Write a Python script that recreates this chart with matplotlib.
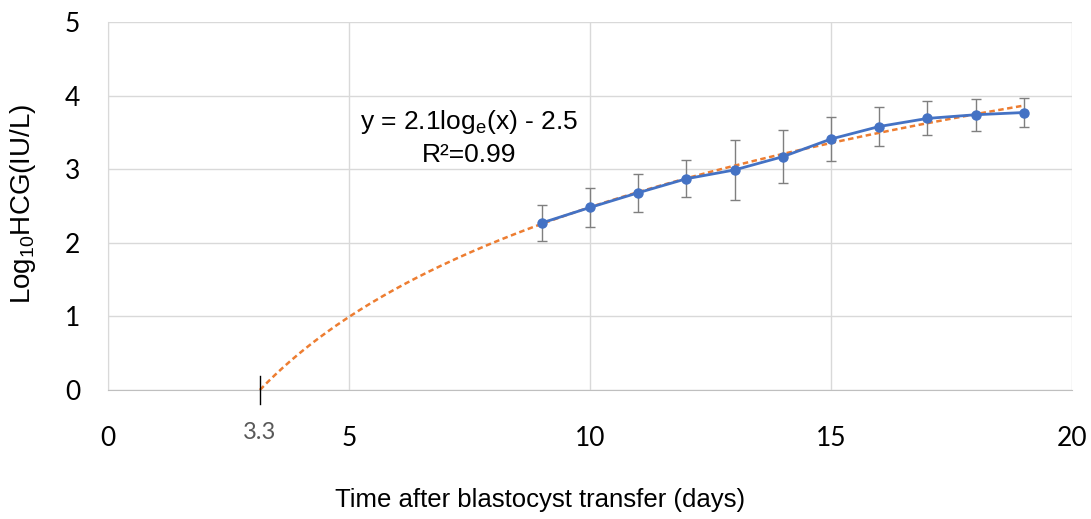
import matplotlib.pyplot as plt
import numpy as np

# values
days = [9, 10, 11, 12, 13, 14, 15, 16, 17, 18, 19]
log_hcg = [2.27, 2.48, 2.68, 2.87, 2.99, 3.17, 3.41, 3.58, 3.69, 3.74, 3.77]
log_hcg_err = [0.25, 0.26, 0.26, 0.25, 0.41, 0.36, 0.30, 0.26, 0.23, 0.22, 0.20]

x_ticks = [0, 5, 10, 15, 20]
y_ticks = [0, 1, 2, 3, 4, 5]
root_label = "3.3"
equation_text = "y = 2.1log$_\\mathregular{e}$(x) - 2.5"
r2_text = "R²=0.99"

BLUE = "#4472C4"
ORANGE = "#ED7D31"
GRID = "#D9D9D9"

# log trendline fitted to the means
slope, intercept = np.polyfit(np.log(days), log_hcg, 1)
x_root = np.exp(-intercept / slope)
x_fit = np.linspace(x_root, max(days), 200)
y_fit = slope * np.log(x_fit) + intercept

fig = plt.figure(figsize=(10.91, 5.19), dpi=100)
ax = fig.add_axes([0.099, 0.2486, 0.8836, 0.709])

ax.plot(x_fit, y_fit, color=ORANGE, linestyle=(0, (2.2, 1.4)), linewidth=1.8, zorder=3)
ax.errorbar(days, log_hcg, yerr=log_hcg_err, fmt="none", ecolor="#7F7F7F",
            elinewidth=1.0, capsize=3.5, capthick=1.0, zorder=2)
ax.plot(days, log_hcg, color=BLUE, linewidth=2, marker="o", markersize=6.5, zorder=4)

ax.set_xlim(0, 20)
ax.set_ylim(0, 5)
ax.set_xticks(x_ticks)
ax.set_yticks(y_ticks)
ax.grid(True, color=GRID, linewidth=1)
ax.set_axisbelow(True)
for side in ["top", "right"]:
    ax.spines[side].set_visible(False)
ax.spines["left"].set_color(GRID)
ax.spines["bottom"].set_color("#BFBFBF")
ax.tick_params(length=0)
ax.tick_params(axis="x", pad=26)
ax.tick_params(axis="y", pad=20)
for lbl in ax.get_xticklabels() + ax.get_yticklabels():
    lbl.set_fontfamily("Lato")
    lbl.set_fontsize(19)

# marker at the curve's root
ax.plot([x_root, x_root], [-0.19, 0.19], color="black", linewidth=1, clip_on=False, zorder=5)
ax.text(x_root, -0.58, root_label, ha="center", va="center", fontsize=17,
        color="#595959", family="Lato")

ax.text(7.5, 3.64, equation_text, ha="center", va="center", fontsize=19,
        family="Liberation Sans")
ax.text(7.5, 3.19, r2_text, ha="center", va="center", fontsize=19,
        family="Liberation Sans")

fig.text(0.021, 0.607, "Log$_\\mathregular{10}$HCG(IU/L)", ha="center", va="center",
         rotation=90, fontsize=20, family="Liberation Sans")
fig.text(0.495, 0.037, "Time after blastocyst transfer (days)", ha="center", va="center",
         fontsize=18.5, family="Liberation Sans")

fig.savefig("out.png", dpi=100)
